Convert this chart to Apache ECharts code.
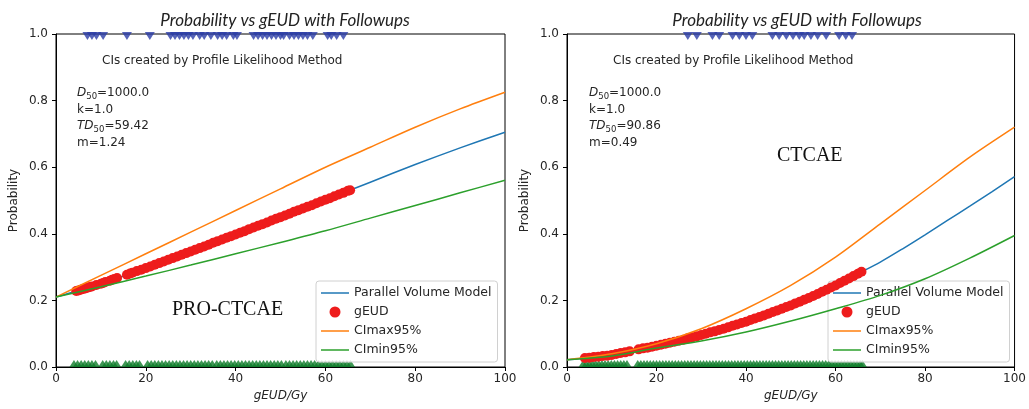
<!DOCTYPE html>
<html>
<head>
<meta charset="utf-8">
<script src="https://cdn.jsdelivr.net/npm/echarts@6/dist/echarts.min.js"></script>
<style>
  html, body { margin: 0; padding: 0; background: #fff; }
  #chart { width: 1029px; height: 409px; }
</style>
</head>
<body>
<div id="chart"></div>
<script>
// ---------- PRO-CTCAE panel ----------
const proCurveDose = [0, 10, 20, 30, 40, 50, 60, 70, 80, 90, 100];
const proModel     = [0.210, 0.250, 0.297, 0.347, 0.398, 0.450, 0.502, 0.555, 0.608, 0.658, 0.705];
const proCIMax     = [0.210, 0.275, 0.340, 0.405, 0.470, 0.535, 0.600, 0.660, 0.720, 0.775, 0.825];
const proCIMin     = [0.210, 0.241, 0.273, 0.306, 0.340, 0.374, 0.409, 0.447, 0.485, 0.523, 0.561];

const proGEUD = [4.5, 5, 5.5, 6, 6.5, 7, 7.5, 8, 9, 10, 10.5, 11, 12, 12.5, 13, 13.6,
  15.8, 16.5, 17, 18, 19, 20, 21, 22, 23, 24, 25, 26, 27, 28, 29, 30, 31, 32, 33, 34, 35,
  36, 37, 38, 39, 40, 41, 42, 43, 44, 45, 46, 47, 48, 49, 50, 51, 52, 53, 54, 55, 56, 57,
  58, 59, 60, 61, 62, 63, 64, 65, 65.5];
const proGEUDProb = [0.228, 0.230, 0.232, 0.234, 0.236, 0.238, 0.240, 0.242, 0.246, 0.250,
  0.252, 0.255, 0.259, 0.262, 0.264, 0.267, 0.277, 0.281, 0.283, 0.288, 0.292, 0.297,
  0.302, 0.307, 0.312, 0.317, 0.322, 0.327, 0.332, 0.337, 0.342, 0.347, 0.352, 0.357,
  0.362, 0.367, 0.373, 0.378, 0.383, 0.388, 0.393, 0.398, 0.403, 0.408, 0.414, 0.419,
  0.424, 0.429, 0.434, 0.440, 0.445, 0.450, 0.455, 0.460, 0.466, 0.471, 0.476, 0.481,
  0.486, 0.492, 0.497, 0.502, 0.507, 0.513, 0.518, 0.523, 0.529, 0.531];

// follow-ups with a toxicity event (drawn at 1) and without (drawn at 0)
const proEvents = [7, 8, 9, 10.5, 15.8, 20.9, 25.5, 26.5, 27.5, 28.5, 29.5, 30.5, 32, 33,
  34.5, 36, 37, 38, 39.5, 40.3, 44, 45, 46, 47, 48, 49, 50, 50.7, 52, 53, 54, 55, 56,
  57.2, 60.5, 61.3, 62.5, 64];
const proNoEvents = [4, 4.8, 5.6, 6.4, 7.2, 8, 8.8, 10.4, 11.2, 12, 12.8, 13.5, 15.5, 16.3,
  17.1, 17.9, 18.6, 20.4, 21.2, 22, 22.8, 23.6, 24.4, 25.2, 26, 26.8, 27.6, 28.4, 29.2,
  30, 30.8, 31.6, 32.4, 33.2, 34, 34.8, 35.8, 36.6, 37.4, 38.2, 39, 39.8, 40.6, 41.4,
  42.2, 43, 43.8, 44.6, 45.4, 46.2, 47, 47.8, 48.6, 49.4, 50.2, 51.2, 52, 52.8, 53.6,
  54.4, 55.2, 56, 56.8, 57.6, 58.4, 59.2, 60, 60.8, 61.6, 62.4, 63.2, 64, 64.8, 65.6];

// ---------- CTCAE panel ----------
const ctModelDose = [0, 5, 10, 15, 20, 25, 30, 35, 40, 45, 50, 55, 60, 65, 70, 75, 80, 85, 90, 95, 100];
const ctModel     = [0.022, 0.028, 0.036, 0.050, 0.064, 0.079, 0.096, 0.115, 0.136, 0.160,
  0.185, 0.213, 0.245, 0.280, 0.315, 0.355, 0.397, 0.440, 0.483, 0.527, 0.572];
const ctCIDose  = [0, 10, 20, 30, 40, 50, 60, 70, 80, 90, 100];
const ctCIMax   = [0.022, 0.040, 0.070, 0.115, 0.175, 0.245, 0.330, 0.430, 0.530, 0.630, 0.720];
const ctCIMin   = [0.022, 0.033, 0.057, 0.078, 0.105, 0.138, 0.175, 0.215, 0.265, 0.327, 0.395];

const ctGEUD = [4, 5, 6, 7, 8, 9, 10, 11, 12, 13, 14, 16, 17, 18, 19, 20, 21, 22, 23, 24,
  25, 26, 27, 28, 29, 30, 31, 32, 33, 34, 35, 36, 37, 38, 39, 40, 41, 42, 43, 44, 45,
  46, 47, 48, 49, 50, 51, 52, 53, 54, 55, 56, 57, 58, 59, 60, 61, 62, 63, 64, 65, 65.8];
const ctGEUDProb = [0.027, 0.028, 0.030, 0.031, 0.033, 0.034, 0.036, 0.039, 0.042, 0.044,
  0.047, 0.053, 0.056, 0.058, 0.061, 0.064, 0.067, 0.070, 0.073, 0.076, 0.079, 0.082,
  0.086, 0.089, 0.092, 0.096, 0.100, 0.104, 0.107, 0.111, 0.115, 0.119, 0.124, 0.128,
  0.132, 0.136, 0.141, 0.146, 0.150, 0.155, 0.160, 0.165, 0.170, 0.175, 0.180, 0.185,
  0.191, 0.196, 0.202, 0.207, 0.213, 0.219, 0.226, 0.232, 0.239, 0.245, 0.252, 0.259,
  0.266, 0.273, 0.280, 0.286];

const ctEvents = [27, 29, 32.5, 34, 37, 38.5, 40, 41.4, 45.9, 47.4, 49, 50.5, 51.9, 53,
  54.5, 56, 57.9, 60.8, 62.3, 63.7];
const ctNoEvents = [3.6, 4.3, 5, 5.7, 6.4, 7.1, 7.8, 8.5, 9.2, 9.9, 10.6, 11.3, 12, 12.7,
  13.4, 15.8, 16.5, 17.2, 17.9, 18.6, 19.3, 20, 20.7, 21.4, 22.1, 22.8, 23.5, 24.2, 24.9,
  25.6, 26.3, 27, 27.7, 28.4, 29.1, 29.8, 30.5, 31.2, 31.9, 32.6, 33.3, 34, 34.7, 35.4,
  36.1, 36.8, 37.5, 38.2, 38.9, 39.6, 40.3, 41, 41.7, 42.4, 43.1, 43.8, 44.5, 45.2, 45.9,
  46.6, 47.3, 48, 48.7, 49.4, 50.1, 50.8, 51.5, 52.2, 52.9, 53.6, 54.3, 55, 55.7, 56.4,
  57.1, 57.8, 58.5, 59.2, 59.9, 60.6, 61.3, 62, 62.7, 63.4, 64.1, 64.8, 65.5, 66];

const xTicks = { min: 0, max: 100, interval: 20 };
const yTicks = { min: 0, max: 1, interval: 0.2 };

const FONT = 'DejaVu Sans';
const TXT = '#262626';
const BLUE = '#1f77b4', ORANGE = '#ff7f0e', GREEN = '#2ca02c', RED = '#ee1c1c';
const EVENT_BLUE = '#2a3ca6', NOEVENT_GREEN = '#0f7d2a';
const LINE_ICON = 'path://M0,0H28V1.5H0Z';

const pair = (xs, ys) => xs.map((x, i) => [x, ys[i]]);
const constAt = (xs, v) => xs.map(x => [x, v]);

function xAxis(idx) {
  return {
    type: 'value', gridIndex: idx, min: xTicks.min, max: xTicks.max, interval: xTicks.interval,
    name: 'gEUD/Gy', nameLocation: 'middle', nameGap: 22,
    nameTextStyle: { fontFamily: FONT, fontSize: 12, fontStyle: 'italic', color: TXT },
    axisLine: { show: true, onZero: false, lineStyle: { color: '#000', width: 1 } },
    axisTick: { show: true, length: 4, lineStyle: { color: '#000' } },
    axisLabel: { fontFamily: FONT, fontSize: 12, color: TXT, margin: 6 },
    splitLine: { show: false }
  };
}
function yAxis(idx) {
  return {
    type: 'value', gridIndex: idx, min: yTicks.min, max: yTicks.max, interval: yTicks.interval,
    name: 'Probability', nameLocation: 'middle', nameGap: 36,
    nameTextStyle: { fontFamily: FONT, fontSize: 12, color: TXT },
    axisLine: { show: true, onZero: false, lineStyle: { color: '#000', width: 1 } },
    axisTick: { show: true, length: 4, lineStyle: { color: '#000' } },
    axisLabel: { fontFamily: FONT, fontSize: 12, color: TXT, margin: 8,
                 formatter: v => v.toFixed(1) },
    splitLine: { show: false }
  };
}

function panelSeries(idx, model, gEUD, ciMax, ciMin, events, noEvents) {
  const base = { xAxisIndex: idx, yAxisIndex: idx };
  const line = (name, data, color) => Object.assign({
    name, type: 'line', data, smooth: 0.3, symbol: 'none', z: 3,
    lineStyle: { color, width: 1.5 }, itemStyle: { color }
  }, base);
  return [
    line('Parallel Volume Model', model, BLUE),
    Object.assign({ name: 'gEUD', type: 'scatter', data: gEUD, symbol: 'circle', symbolSize: 10,
      itemStyle: { color: RED, opacity: 1 }, z: 4 }, base),
    Object.assign(line('CImax95%', ciMax, ORANGE), { z: 5 }),
    Object.assign(line('CImin95%', ciMin, GREEN), { z: 5 }),
    Object.assign({ name: 'events', type: 'scatter', data: events, symbol: 'triangle',
      symbolRotate: 180, symbolSize: [10, 8], symbolOffset: [0, 2],
      itemStyle: { color: EVENT_BLUE }, z: 3, clip: false }, base),
    Object.assign({ name: 'no events', type: 'scatter', data: noEvents, symbol: 'triangle',
      symbolSize: [9, 7], symbolOffset: [0, -3.5],
      itemStyle: { color: NOEVENT_GREEN }, z: 3, clip: false }, base)
  ];
}

function legend(left) {
  return {
    left, top: 281, orient: 'vertical', itemGap: 5, itemWidth: 28, itemHeight: 11,
    padding: [5, 6, 5, 5],
    backgroundColor: 'rgba(255,255,255,0.8)', borderColor: '#d0d0d0', borderWidth: 1,
    borderRadius: 3,
    textStyle: { fontFamily: FONT, fontSize: 12.5, color: TXT, lineHeight: 14 },
    data: [
      { name: 'Parallel Volume Model', icon: LINE_ICON },
      { name: 'gEUD', icon: 'circle' },
      { name: 'CImax95%', icon: LINE_ICON },
      { name: 'CImin95%', icon: LINE_ICON }
    ],
    selectedMode: false
  };
}

const paramRich = {
  n: { fontFamily: FONT, fontSize: 12, lineHeight: 16.5, fill: TXT },
  i: { fontFamily: FONT, fontSize: 12, lineHeight: 16.5, fontStyle: 'italic', fill: TXT },
  s: { fontFamily: FONT, fontSize: 8.5, lineHeight: 16.5, verticalAlign: 'bottom', fill: TXT }
};
function params(td50, m) {
  return '{i|D}{s|50}{n|=1000.0}\n{n|k=1.0}\n{i|TD}{s|50}{n|=' + td50 + '}\n{n|m=' + m + '}';
}
function textEl(x, y, text, style) {
  return { type: 'text', left: x, top: y, z: 10, style: Object.assign({ text }, style) };
}
const titleStyle = { fontFamily: 'Lato', fontSize: 17, fontStyle: 'italic', fontWeight: 'normal', color: '#222' };

const chart = echarts.init(document.getElementById('chart'), null, { renderer: 'canvas' });
chart.setOption({
  animation: false,
  backgroundColor: '#fff',
  title: [
    { text: 'Probability vs gEUD with Followups', left: 280, top: 7, textAlign: 'center', textStyle: titleStyle },
    { text: 'Probability vs gEUD with Followups', left: 792, top: 7, textAlign: 'center', textStyle: titleStyle }
  ],
  grid: [
    { left: 56, right: 524, top: 34, bottom: 42, show: true, borderColor: '#000', borderWidth: 1, backgroundColor: 'transparent' },
    { left: 567, right: 13, top: 34, bottom: 42, show: true, borderColor: '#000', borderWidth: 1, backgroundColor: 'transparent' }
  ],
  xAxis: [xAxis(0), xAxis(1)],
  yAxis: [yAxis(0), yAxis(1)],
  legend: [legend(316), legend(828)],
  series: [
    ...panelSeries(0, pair(proCurveDose, proModel), pair(proGEUD, proGEUDProb),
      pair(proCurveDose, proCIMax), pair(proCurveDose, proCIMin),
      constAt(proEvents, 1), constAt(proNoEvents, 0)),
    ...panelSeries(1, pair(ctModelDose, ctModel), pair(ctGEUD, ctGEUDProb),
      pair(ctCIDose, ctCIMax), pair(ctCIDose, ctCIMin),
      constAt(ctEvents, 1), constAt(ctNoEvents, 0))
  ],
  graphic: [
    textEl(102, 55, 'CIs created by Profile Likelihood Method', { font: '12px "DejaVu Sans"', fill: TXT }),
    textEl(77, 87, params('59.42', '1.24'), { rich: paramRich }),
    textEl(172, 300, 'PRO-CTCAE', { font: '20px "Liberation Serif"', fill: '#111' }),
    textEl(613, 55, 'CIs created by Profile Likelihood Method', { font: '12px "DejaVu Sans"', fill: TXT }),
    textEl(589, 87, params('90.86', '0.49'), { rich: paramRich }),
    textEl(777, 146, 'CTCAE', { font: '20px "Liberation Serif"', fill: '#111' })
  ]
});
</script>
</body>
</html>
